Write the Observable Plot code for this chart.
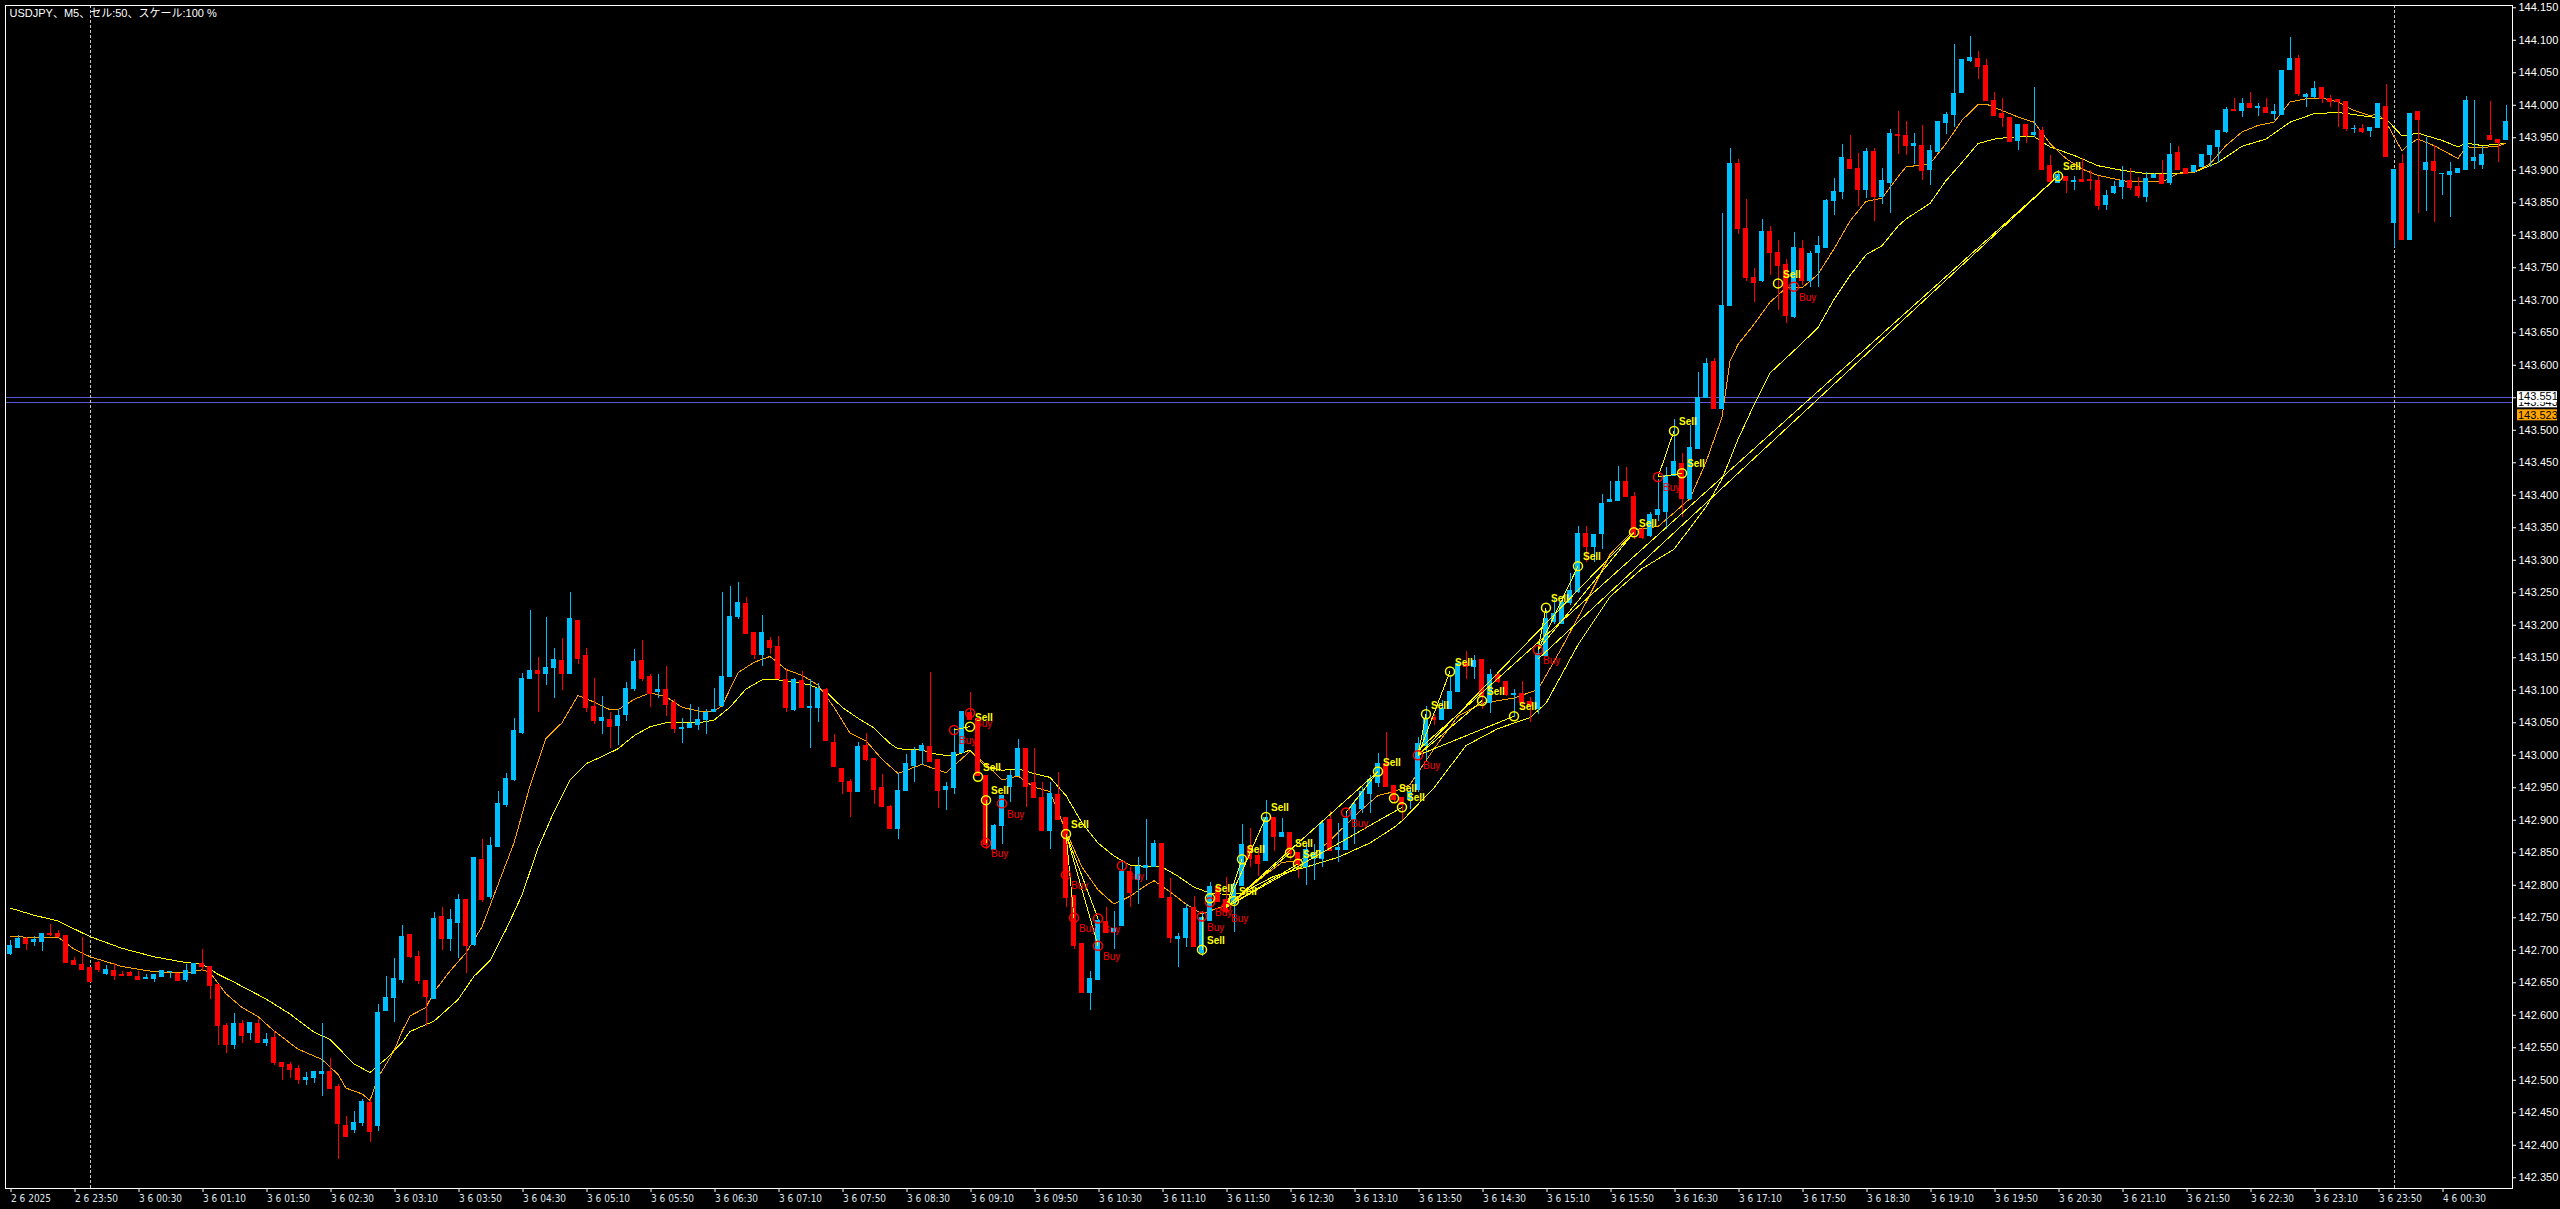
<!DOCTYPE html>
<html><head><meta charset="utf-8">
<script src="https://cdn.jsdelivr.net/npm/d3@7"></script>
<script src="https://cdn.jsdelivr.net/npm/@observablehq/plot@0.6"></script>
<style>
html,body{margin:0;padding:0;background:#000;overflow:hidden}
#chart svg{display:block}
</style></head><body><div id="chart"></div>
<script>
const title = "USDJPY、M5、セル:50、スケール:100 %";

const open = [
142.695,142.704,142.718,142.712,142.713,142.725,142.725,142.722,142.683,142.678,
142.672,142.681,142.664,142.668,142.662,142.665,142.659,142.656,142.656,142.659,
142.666,142.664,142.655,142.664,142.679,142.675,142.646,142.583,142.555,142.586,
142.572,142.586,142.558,142.565,142.527,142.524,142.518,142.501,142.504,142.509,
142.513,142.490,142.430,142.423,142.434,142.465,142.429,142.607,142.626,142.655,
142.723,142.689,142.653,142.625,142.751,142.718,142.742,142.777,142.708,142.839,
142.782,142.859,142.924,142.962,143.034,143.117,143.129,143.125,143.135,143.145,
143.125,143.206,143.152,143.074,143.052,143.054,143.045,143.062,143.102,143.145,
143.120,143.097,143.100,143.081,143.040,143.042,143.046,143.054,143.067,143.076,
143.121,143.213,143.233,143.188,143.155,143.176,143.167,143.116,143.070,143.114,
143.073,143.073,143.100,143.019,142.979,142.959,142.944,143.014,142.994,142.950,
142.920,142.887,142.945,142.984,143.006,143.013,142.993,142.946,142.949,143.003,
143.065,143.056,142.968,142.855,142.891,142.951,142.968,143.010,142.958,142.934,
142.884,142.939,142.903,142.783,142.710,142.635,142.655,142.744,142.728,142.737,
142.821,142.808,142.826,142.828,142.863,142.781,142.718,142.719,142.765,142.696,
142.745,142.797,142.778,142.771,142.799,142.859,142.845,142.838,142.903,142.874,
142.881,142.850,142.828,142.841,142.841,142.900,142.854,142.855,142.900,142.918,
142.941,142.958,142.986,142.953,142.935,142.931,142.946,143.015,143.058,143.054,
143.071,143.097,143.140,143.136,143.146,143.080,143.123,143.113,143.093,143.095,
143.082,143.071,143.153,143.205,143.202,143.235,143.251,143.341,143.320,143.341,
143.389,143.391,143.421,143.398,143.347,143.337,143.369,143.375,143.429,143.448,
143.395,143.471,143.549,143.605,143.533,143.691,143.910,143.809,143.734,143.729,
143.805,143.772,143.755,143.674,143.779,143.729,143.772,143.781,143.852,143.867,
143.916,143.902,143.870,143.928,143.859,143.881,143.954,143.952,143.937,143.937,
143.901,143.928,143.973,143.985,144.019,144.068,144.071,144.060,144.006,143.986,
143.980,143.945,143.969,143.954,143.960,143.906,143.880,143.890,143.882,143.885,
143.885,143.883,143.847,143.865,143.875,143.884,143.874,143.859,143.888,143.892,
143.880,143.927,143.902,143.897,143.905,143.924,143.936,143.959,143.993,143.991,
144.002,143.996,143.996,143.987,143.985,144.054,144.071,144.012,144.013,144.027,
144.010,144.008,144.005,143.963,143.964,143.960,143.965,143.998,143.819,143.909,
143.793,143.989,143.901,143.913,143.894,143.893,143.896,143.901,143.915,143.908,
143.952,143.947,143.947
];
const high = [
142.715,142.722,142.719,142.721,142.725,142.739,142.730,142.722,142.689,142.719,
142.672,142.682,142.676,142.679,142.668,142.668,142.668,142.662,142.662,142.668,
142.667,142.664,142.678,142.679,142.701,142.675,142.646,142.587,142.602,142.592,
142.588,142.593,142.572,142.575,142.528,142.527,142.522,142.512,142.513,142.587,
142.533,142.493,142.445,142.452,142.471,142.471,142.617,142.659,142.687,142.738,
142.725,142.698,142.653,142.758,142.766,142.763,142.786,142.777,142.842,142.871,
142.873,142.944,142.972,143.057,143.126,143.223,143.151,143.212,143.164,143.179,
143.250,143.206,143.164,143.118,143.090,143.066,143.070,143.112,143.163,143.177,
143.125,143.125,143.137,143.086,143.056,143.078,143.073,143.070,143.102,143.250,
143.259,143.266,143.242,143.188,143.215,143.181,143.183,143.132,143.118,143.129,
143.116,143.110,143.102,143.032,142.979,142.962,143.019,143.034,142.994,142.970,
142.923,142.972,143.001,143.012,143.018,143.127,142.993,142.958,143.041,143.066,
143.097,143.056,142.968,142.893,142.938,142.977,143.025,143.010,143.010,142.958,
142.958,142.973,142.903,142.783,142.710,142.668,142.747,142.766,142.760,142.835,
142.828,142.843,142.901,142.869,142.865,142.811,142.726,142.771,142.783,142.759,
142.804,142.797,142.812,142.807,142.893,142.888,142.855,142.931,142.903,142.902,
142.881,142.850,142.862,142.862,142.900,142.914,142.895,142.913,142.931,142.951,
142.969,143.003,143.035,142.953,142.935,142.949,143.028,143.075,143.062,143.084,
143.123,143.145,143.159,143.153,143.146,143.132,143.127,143.113,143.101,143.113,
143.089,143.175,143.222,143.240,143.244,143.280,143.352,143.352,143.339,143.401,
143.421,143.444,143.442,143.404,143.352,143.373,143.425,143.442,143.516,143.464,
143.507,143.589,143.611,143.611,143.833,143.934,143.917,143.855,143.749,143.824,
143.814,143.792,143.762,143.805,143.792,143.775,143.798,143.855,143.887,143.939,
143.954,143.926,143.933,143.934,143.903,143.962,143.991,143.975,143.956,143.969,
143.938,143.975,143.989,144.094,144.069,144.106,144.082,144.070,144.020,144.011,
143.980,143.970,143.969,144.028,143.966,143.923,143.899,143.890,143.890,143.918,
143.900,143.890,143.869,143.882,143.906,143.902,143.889,143.897,143.895,143.915,
143.941,143.937,143.902,143.907,143.924,143.937,143.960,143.997,144.011,144.011,
144.020,144.002,144.010,144.001,144.052,144.105,144.077,144.018,144.036,144.027,
144.015,144.008,144.005,143.969,143.971,143.966,144.003,144.032,143.900,143.924,
143.987,143.989,143.951,143.938,143.895,143.912,143.902,144.013,144.007,143.937,
144.006,143.947,143.999
];
const low = [
142.692,142.702,142.700,142.706,142.698,142.721,142.721,142.680,142.678,142.670,
142.651,142.666,142.661,142.654,142.660,142.660,142.655,142.655,142.651,142.658,
142.656,142.652,142.651,142.664,142.668,142.624,142.554,142.541,142.547,142.557,
142.561,142.558,142.552,142.523,142.499,142.503,142.494,142.492,142.495,142.475,
142.487,142.378,142.412,142.418,142.429,142.404,142.421,142.607,142.589,142.649,
142.688,142.648,142.583,142.625,142.700,142.698,142.688,142.664,142.706,142.773,
142.778,142.859,142.920,142.960,143.032,143.117,143.066,143.108,143.088,143.100,
143.125,143.139,143.066,143.048,143.032,143.010,143.015,143.052,143.098,143.114,
143.073,143.088,143.060,143.034,143.018,143.042,143.038,143.032,143.067,143.074,
143.121,143.209,143.187,143.148,143.136,143.155,143.117,143.066,143.068,143.073,
143.011,143.050,143.022,142.982,142.940,142.905,142.944,142.990,142.924,142.920,
142.887,142.871,142.945,142.958,142.984,142.989,142.918,142.915,142.939,143.003,
143.054,142.968,142.855,142.855,142.862,142.927,142.968,142.920,142.934,142.884,
142.855,142.901,142.766,142.701,142.635,142.607,142.655,142.726,142.701,142.737,
142.766,142.771,142.807,142.828,142.780,142.710,142.673,142.704,142.705,142.690,
142.745,142.774,142.756,142.728,142.799,142.828,142.814,142.838,142.852,142.874,
142.838,142.811,142.799,142.807,142.828,142.853,142.835,142.855,142.862,142.910,
142.910,142.951,142.951,142.927,142.900,142.916,142.942,142.994,143.046,143.054,
143.071,143.097,143.116,143.116,143.071,143.064,143.111,143.091,143.058,143.071,
143.050,143.063,143.153,143.201,143.201,143.231,143.249,143.296,143.297,143.317,
143.389,143.391,143.398,143.332,143.332,143.335,143.360,143.347,143.429,143.366,
143.392,143.471,143.549,143.533,143.533,143.691,143.801,143.729,143.697,143.727,
143.738,143.684,143.665,143.672,143.723,143.719,143.719,143.781,143.831,143.855,
143.902,143.844,143.857,143.821,143.848,143.834,143.924,143.923,143.909,143.884,
143.876,143.928,143.955,143.966,144.019,144.066,144.040,144.006,143.983,143.966,
143.944,143.931,143.941,143.951,143.901,143.882,143.880,143.865,143.869,143.882,
143.869,143.838,143.838,143.862,143.855,143.869,143.856,143.851,143.887,143.879,
143.877,143.901,143.893,143.897,143.905,143.905,143.910,143.956,143.991,143.981,
143.995,143.983,143.988,143.977,143.984,144.053,144.014,143.996,144.011,144.003,
143.997,143.966,143.960,143.956,143.957,143.950,143.965,143.920,143.781,143.793,
143.792,143.833,143.836,143.820,143.861,143.828,143.896,143.901,143.901,143.901,
143.947,143.912,143.947
];
const close = [
142.707,142.718,142.710,142.716,142.725,142.724,142.721,142.681,142.678,142.670,
142.651,142.669,142.669,142.661,142.660,142.660,142.655,142.658,142.662,142.668,
142.667,142.652,142.668,142.679,142.675,142.645,142.583,142.554,142.586,142.568,
142.588,142.558,142.562,142.527,142.521,142.516,142.500,142.504,142.513,142.513,
142.487,142.432,142.412,142.435,142.467,142.421,142.604,142.626,142.656,142.721,
142.690,142.652,142.628,142.748,142.718,142.746,142.778,142.706,142.842,142.778,
142.861,142.925,142.964,143.038,143.118,143.129,143.125,143.135,143.147,143.125,
143.209,143.148,143.073,143.052,143.057,143.044,143.061,143.102,143.143,143.118,
143.094,143.100,143.078,143.040,143.042,143.048,143.054,143.065,143.069,143.121,
143.213,143.234,143.187,143.155,143.188,143.165,143.117,143.072,143.116,143.073,
143.074,143.102,143.022,142.982,142.959,142.944,143.012,142.992,142.947,142.920,
142.887,142.945,142.986,143.006,143.015,142.989,142.945,142.951,143.004,143.066,
143.054,142.968,142.862,142.891,142.938,142.968,143.010,142.951,142.934,142.884,
142.941,142.901,142.780,142.707,142.635,142.656,142.745,142.726,142.733,142.820,
142.788,142.828,142.829,142.864,142.780,142.719,142.721,142.763,142.705,142.749,
142.797,142.774,142.759,142.800,142.862,142.841,142.833,142.903,142.874,142.881,
142.848,142.831,142.855,142.848,142.895,142.853,142.857,142.902,142.924,142.944,
142.962,142.986,142.951,142.931,142.924,142.942,143.017,143.056,143.054,143.071,
143.097,143.140,143.136,143.145,143.090,143.123,143.113,143.093,143.095,143.080,
143.076,143.156,143.209,143.218,143.235,143.252,143.341,143.320,143.339,143.386,
143.392,143.421,143.398,143.339,143.335,143.369,143.378,143.429,143.451,143.395,
143.473,143.550,143.602,143.533,143.691,143.910,143.809,143.734,143.727,143.805,
143.772,143.752,143.676,143.781,143.729,143.771,143.783,143.852,143.867,143.919,
143.902,143.870,143.928,143.859,143.883,143.956,143.952,143.938,143.940,143.899,
143.929,143.975,143.985,144.018,144.069,144.072,144.059,144.006,143.984,143.980,
143.944,143.970,143.953,143.957,143.901,143.882,143.892,143.883,143.884,143.882,
143.883,143.845,143.861,143.875,143.883,143.872,143.860,143.887,143.892,143.879,
143.923,143.901,143.895,143.906,143.924,143.937,143.960,143.993,143.991,144.002,
143.996,143.997,143.988,143.989,144.052,144.071,144.018,144.016,144.025,144.010,
144.005,144.005,143.964,143.964,143.959,143.965,144.002,143.920,143.900,143.793,
143.987,143.978,143.911,143.899,143.895,143.898,143.902,144.006,143.919,143.924,
143.947,143.942,143.975
];

// moving averages: [bar index, price]
const fastMA = [[0,142.722],[3,142.719],[6,142.720],[8,142.702],[10,142.690],[14,142.675],[18,142.667],[22,142.665],[24,142.670],[25,142.666],[27,142.633],[29,142.612],[31,142.598],[33,142.576],[36,142.548],[39,142.532],[41,142.509],[42,142.488],[44,142.479],[45,142.469],[46,142.504],[48,142.545],[49,142.575],[50,142.599],[52,142.612],[53,142.636],[55,142.668],[57,142.696],[59,142.736],[61,142.801],[63,142.865],[65,142.953],[67,143.026],[69,143.050],[71,143.092],[73,143.082],[75,143.070],[76,143.070],[78,143.086],[80,143.096],[82,143.090],[84,143.074],[86,143.068],[88,143.068],[89,143.076],[91,143.127],[93,143.143],[95,143.152],[97,143.132],[99,143.123],[101,143.108],[103,143.074],[105,143.034],[107,143.022],[109,142.994],[111,142.972],[114,142.986],[117,142.973],[120,143.006],[122,142.986],[124,142.962],[126,142.968],[128,142.951],[130,142.944],[132,142.883],[134,142.828],[136,142.793],[138,142.771],[140,142.783],[142,142.800],[143,142.807],[145,142.790],[147,142.771],[149,142.756],[151,142.765],[153,142.774],[155,142.797],[157,142.817],[159,142.835],[161,142.838],[163,142.848],[165,142.869],[167,142.893],[169,142.917],[171,142.938],[173,142.944],[175,142.955],[178,143.010],[181,143.060],[184,143.080],[188,143.088],[191,143.101],[194,143.166],[197,143.235],[200,143.309],[203,143.347],[206,143.352],[208,143.373],[210,143.395],[212,143.451],[214,143.520],[215,143.606],[216,143.632],[218,143.663],[220,143.697],[222,143.719],[224,143.719],[226,143.740],[228,143.779],[230,143.822],[232,143.852],[234,143.857],[236,143.890],[237,143.905],[240,143.910],[242,143.941],[244,143.977],[246,144.001],[247,144.002],[249,143.992],[251,143.982],[253,143.974],[255,143.941],[257,143.918],[259,143.902],[261,143.892],[263,143.887],[265,143.882],[267,143.883],[269,143.882],[271,143.895],[273,143.897],[275,143.910],[277,143.938],[279,143.959],[281,143.969],[283,143.974],[285,144.005],[287,144.010],[289,144.011],[291,144.005],[293,143.992],[295,143.984],[296,143.987],[297,143.974],[299,143.930],[300,143.941],[301,143.948],[303,143.938],[306,143.918],[307,143.936],[309,143.935],[311,143.937],[312,143.942]];
const slowMA = [[0,142.765],[3,142.754],[6,142.745],[10,142.721],[14,142.703],[18,142.690],[22,142.681],[24,142.679],[26,142.663],[28,142.651],[32,142.625],[35,142.602],[38,142.574],[40,142.563],[43,142.525],[45,142.512],[47,142.533],[49,142.558],[50,142.575],[53,142.591],[56,142.624],[58,142.660],[60,142.684],[62,142.732],[64,142.785],[66,142.857],[68,142.913],[70,142.962],[72,142.987],[74,142.998],[76,143.010],[78,143.030],[80,143.044],[82,143.050],[84,143.050],[86,143.050],[88,143.054],[90,143.074],[92,143.102],[94,143.116],[96,143.116],[98,143.113],[100,143.108],[102,143.098],[104,143.074],[106,143.057],[108,143.042],[110,143.018],[111,143.010],[114,143.008],[116,143.001],[118,142.999],[120,143.008],[122,142.982],[124,142.977],[126,142.979],[128,142.972],[130,142.966],[132,142.938],[134,142.896],[136,142.865],[138,142.845],[140,142.831],[142,142.829],[144,142.828],[146,142.814],[148,142.797],[150,142.788],[152,142.786],[154,142.788],[158,142.814],[162,142.828],[166,142.843],[170,142.865],[173,142.889],[174,142.899],[178,142.950],[182,143.015],[186,143.041],[190,143.058],[192,143.080],[196,143.170],[200,143.244],[204,143.287],[208,143.317],[212,143.382],[214,143.425],[216,143.486],[218,143.539],[220,143.588],[222,143.611],[224,143.634],[226,143.658],[228,143.701],[230,143.738],[232,143.770],[234,143.784],[236,143.814],[237,143.825],[240,143.849],[242,143.884],[244,143.912],[246,143.941],[248,143.948],[250,143.951],[253,143.952],[255,143.936],[258,143.923],[261,143.907],[264,143.900],[267,143.895],[270,143.895],[273,143.897],[276,143.912],[279,143.937],[282,143.948],[285,143.974],[288,143.987],[291,143.989],[294,143.984],[297,143.979],[299,143.953],[301,143.957],[304,143.946],[306,143.936],[307,143.942],[309,143.938],[311,143.940],[312,143.942]];

// trade markers: [bar index, price]
const sells = [[120,143.044],[121,142.967],[122,142.931],[132,142.879],[149,142.701],[150,142.780],[153,142.776],[154,142.840],[157,142.905],[160,142.850],[161,142.833],[171,142.975],[173,142.934],[174,142.920],[177,143.063],[180,143.129],[184,143.084],[188,143.060],[192,143.227],[196,143.291],[203,143.343],[208,143.499],[209,143.434],[221,143.726],[256,143.891]];
const buys = [[118,143.039],[120,143.065],[122,142.865],[124,142.926],[132,142.816],[133,142.750],[136,142.749],[136,142.707],[139,142.830],[149,142.752],[150,142.774],[152,142.766],[167,142.912],[176,143.000],[191,143.162],[206,143.428],[223,143.721]];
// trade lines: [entry index, entry price, exit index, exit price]
const trades = [[118,143.039,120,143.044],[122,142.931,122,142.865],[132,142.879,133,142.750],[132,142.879,136,142.749],[132,142.879,136,142.707],[149,142.752,149,142.701],[152,142.766,154,142.840],[152,142.766,157,142.905],[152,142.766,160,142.850],[152,142.766,161,142.833],[152,142.766,171,142.975],[152,142.766,174,142.920],[167,142.912,171,142.975],[176,143.000,177,143.063],[176,143.000,180,143.129],[176,143.000,184,143.084],[176,143.000,188,143.060],[176,143.000,203,143.343],[176,143.008,256,143.891],[191,143.162,192,143.227],[191,143.162,196,143.291],[191,143.162,203,143.343],[191,143.148,256,143.891],[206,143.428,208,143.499],[206,143.428,209,143.434]];

const levelLines = [143.551, 143.543];
const priceTags = [143.543, 143.551, 143.523];
const daySeparators = [10, 298];

const yTicks = [142.35,142.40,142.45,142.50,142.55,142.60,142.65,142.70,142.75,142.80,142.85,142.90,142.95,143.00,143.05,143.10,143.15,143.20,143.25,143.30,143.35,143.40,143.45,143.50,143.55,143.60,143.65,143.70,143.75,143.80,143.85,143.90,143.95,144.00,144.05,144.10,144.15];
const xTickIndex = [0,8,16,24,32,40,48,56,64,72,80,88,96,104,112,120,128,136,144,152,160,168,176,184,192,200,208,216,224,232,240,248,256,264,272,280,288,296,304];
const xTickLabels = ["2 6 2025","2 6 23:50","3 6 00:30","3 6 01:10","3 6 01:50","3 6 02:30","3 6 03:10","3 6 03:50","3 6 04:30","3 6 05:10","3 6 05:50","3 6 06:30","3 6 07:10","3 6 07:50","3 6 08:30","3 6 09:10","3 6 09:50","3 6 10:30","3 6 11:10","3 6 11:50","3 6 12:30","3 6 13:10","3 6 13:50","3 6 14:30","3 6 15:10","3 6 15:50","3 6 16:30","3 6 17:10","3 6 17:50","3 6 18:30","3 6 19:10","3 6 19:50","3 6 20:30","3 6 21:10","3 6 21:50","3 6 22:30","3 6 23:10","3 6 23:50","4 6 00:30"];

const candles = open.map((o, i) => ({i, o, h: high[i], l: low[i], c: close[i]}));
const bull = "#00bfff", bear = "#ff0000";
const col = d => d.c >= d.o ? bull : bear;
const labelMap = new Map(xTickIndex.map((v, k) => [v, xTickLabels[k]]));
const sans = "'Liberation Sans', Arial, 'Noto Sans CJK JP', sans-serif";
// a tick label hidden under a price tag is left blank
const hiddenUnderTag = v => priceTags.some(p => Math.abs(p - v) < 0.004);

const W = 2560, H = 1209, mL = 5, mR = 48, mT = 5, mB = 21;
const crisp = "crispEdges";
const chart = Plot.plot({
  width: W, height: H,
  marginLeft: mL, marginRight: mR, marginTop: mT, marginBottom: mB,
  style: {background: "#000", color: "#fff", fontFamily: sans, fontSize: "11px", overflow: "visible"},
  x: {domain: [-0.5625, 312.8125]},
  y: {domain: [142.3335, 144.1535]},
  color: {type: "identity"},
  marks: [
    Plot.ruleY(levelLines, {y: d => d, stroke: "#5a5ad6", strokeWidth: 1, shapeRendering: crisp}),
    Plot.ruleX(daySeparators, {x: d => d, stroke: "#c8c8c8", strokeDasharray: "3,2", shapeRendering: crisp}),
    Plot.line(slowMA, {x: d => d[0], y: d => d[1], stroke: "#ffff00", strokeWidth: 1, shapeRendering: crisp}),
    Plot.line(fastMA, {x: d => d[0], y: d => d[1], stroke: "#ffa500", strokeWidth: 1, shapeRendering: crisp}),
    Plot.ruleX(candles, {x: "i", y1: "l", y2: "h", stroke: col, strokeWidth: 1, shapeRendering: crisp}),
    Plot.rect(candles, {x1: d => d.i - 0.3125, x2: d => d.i + 0.3125, y1: "o", y2: "c", fill: col, insetTop: -0.5, insetBottom: -0.5, shapeRendering: crisp}),
    Plot.link(trades, {x1: d => d[0], y1: d => d[1], x2: d => d[2], y2: d => d[3], stroke: "#ffff00", strokeWidth: 1, shapeRendering: crisp}),
    Plot.dot(buys, {x: d => d[0], y: d => d[1], r: 4.5, stroke: "#ff0000", fill: "none"}),
    Plot.dot(sells, {x: d => d[0], y: d => d[1], r: 4.5, stroke: "#ffff00", fill: "none"}),
    Plot.text(sells, {x: d => d[0], y: d => d[1], text: () => "Sell", dx: 5, dy: -9, textAnchor: "start", fill: "#ffff00", fontSize: 10, fontWeight: "bold", fontFamily: sans}),
    Plot.text(buys, {x: d => d[0], y: d => d[1], text: () => "Buy", dx: 5, dy: 11, textAnchor: "start", fill: "#ff0000", fontSize: 10, fontFamily: sans}),
    Plot.frame({stroke: "#fff", shapeRendering: crisp}),
    Plot.axisY(yTicks, {anchor: "right", label: null, tickSize: 3, tickPadding: 3, tickFormat: d => hiddenUnderTag(d) ? "" : d.toFixed(3), fontSize: 11, fill: "#fff", stroke: "#fff"}),
    Plot.axisX(xTickIndex, {anchor: "bottom", label: null, tickSize: 4, tickPadding: 2, tickFormat: d => labelMap.get(d), textAnchor: "start", dx: 1, fontSize: 10, fill: "#dfe6ee", stroke: "#fff", fontFamily: "'Liberation Sans Narrow', 'Arial Narrow', 'DejaVu Sans Condensed', 'Liberation Sans', sans-serif"}),
    Plot.text([title], {frameAnchor: "top-left", dx: 4, dy: 4, lineAnchor: "top", textAnchor: "start", fill: "#fff", fontSize: 11, fontFamily: sans})
  ]
});

// price tags on the right axis, placed with the chart's own y scale
const ySc = chart.scale("y");
const svg = d3.select(chart);
const tagX = W - mR + 5;
const tagFill = ["#ffffff", "#ffffff", "#ffa500"];
priceTags.forEach((p, k) => {
  const y = ySc.apply(p);
  const g = svg.append("g");
  g.append("rect").attr("x", tagX).attr("y", y - 5.5).attr("width", 40).attr("height", 11).attr("fill", tagFill[k]);
  g.append("text").attr("x", tagX + 1).attr("y", y).attr("dy", "0.35em")
    .attr("text-anchor", "start")
    .attr("fill", "#000").attr("font-size", 11).attr("font-family", sans).text(p.toFixed(3));
});

document.getElementById("chart").appendChild(chart);
</script>
</body></html>
